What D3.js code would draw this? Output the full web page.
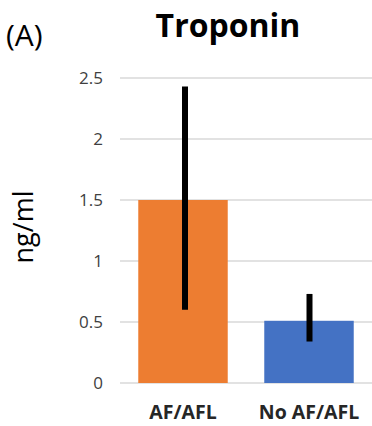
<!DOCTYPE html>
<html><head><meta charset="utf-8">
<script src="https://cdn.jsdelivr.net/npm/d3@7"></script>
<style>body{margin:0;background:#fff}svg{display:block;font-family:"Open Sans",Lato,sans-serif}</style>
</head><body>
<script>
const categories = ["AF/AFL", "No AF/AFL"];
const values = [1.5, 0.51];
const errLow = [0.60, 0.34];
const errHigh = [2.43, 0.73];
const colors = ["#ED7D31", "#4472C4"];
const yTicks = [0, 0.5, 1, 1.5, 2, 2.5];

const W = 372, H = 426;
const svg = d3.select("body").append("svg").attr("width", W).attr("height", H);
const x = d3.scaleBand().domain(categories).range([120, 372]).paddingInner(0.29).paddingOuter(0.145);
const y = d3.scaleLinear().domain([0, 2.5]).range([383, 78]);

svg.append("g").selectAll("line").data(yTicks).join("line")
  .attr("x1", 120).attr("x2", 372).attr("y1", d => y(d)).attr("y2", d => y(d))
  .attr("stroke", "#d9d9d9").attr("stroke-width", 1.5);

svg.append("g").selectAll("text").data(yTicks).join("text")
  .attr("x", 103).attr("y", d => y(d)).attr("dy", "0.35em").attr("text-anchor", "end")
  .attr("font-size", 17).attr("fill", "#404040").text(d => d);

svg.append("g").selectAll("rect").data(categories).join("rect")
  .attr("x", d => x(d)).attr("width", x.bandwidth())
  .attr("y", (d, i) => y(values[i])).attr("height", (d, i) => y(0) - y(values[i]))
  .attr("fill", (d, i) => colors[i]);

svg.append("g").selectAll("line").data(categories).join("line")
  .attr("x1", (d, i) => x(d) + x.bandwidth() / 2 + (i === 0 ? 2 : 0.5))
  .attr("x2", (d, i) => x(d) + x.bandwidth() / 2 + (i === 0 ? 2 : 0.5))
  .attr("y1", (d, i) => y(errLow[i])).attr("y2", (d, i) => y(errHigh[i]))
  .attr("stroke", "#000").attr("stroke-width", 6);

svg.append("g").selectAll("text").data(categories).join("text")
  .attr("x", d => x(d) + x.bandwidth() / 2).attr("y", 419).attr("text-anchor", "middle")
  .attr("font-size", 19.5).attr("font-weight", "bold").attr("fill", "#262626").text(d => d);

svg.append("text").attr("x", 228).attr("y", 37).attr("text-anchor", "middle")
  .attr("font-size", 32).attr("font-weight", "bold").attr("fill", "#000").text("Troponin");
svg.append("text").attr("x", 6).attr("y", 46)
  .attr("font-size", 30).attr("fill", "#000").text("(A)");
svg.append("text").attr("transform", "translate(33,227) rotate(-90)").attr("text-anchor", "middle")
  .attr("font-size", 27).attr("fill", "#000").text("ng/ml");
</script>
</body></html>
